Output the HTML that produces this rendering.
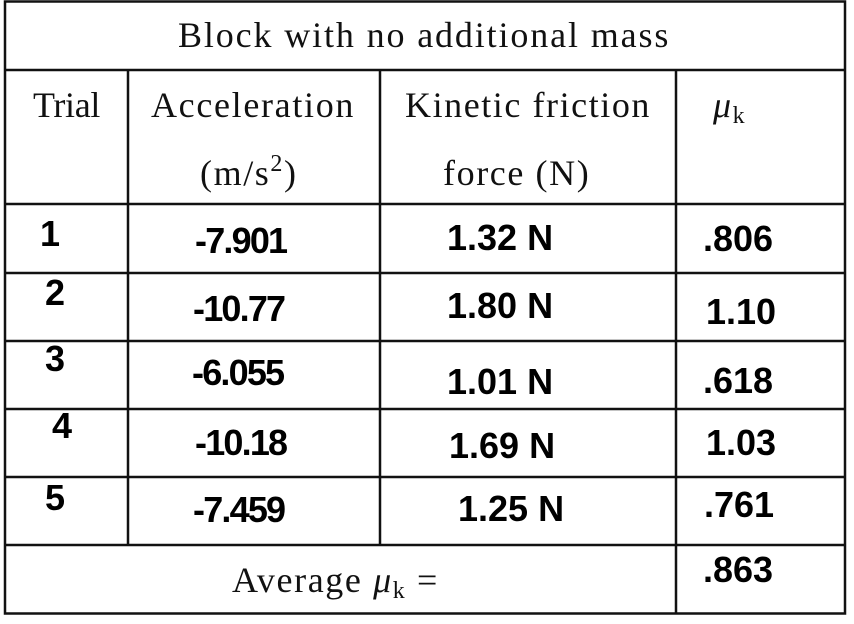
<!DOCTYPE html>
<html><head><style>body{margin:0;background:#fff}svg{display:block}</style></head><body>
<svg width="854" height="624" xmlns="http://www.w3.org/2000/svg">
<rect width="854" height="624" fill="#fff"/>
<g stroke="#111" stroke-width="2.5" fill="none">
<rect x="5" y="1.5" width="840" height="612"/>
<line x1="5" y1="70" x2="845" y2="70"/>
<line x1="5" y1="204" x2="845" y2="204"/>
<line x1="5" y1="273" x2="845" y2="273"/>
<line x1="5" y1="341" x2="845" y2="341"/>
<line x1="5" y1="409" x2="845" y2="409"/>
<line x1="5" y1="477" x2="845" y2="477"/>
<line x1="5" y1="545" x2="845" y2="545"/>
<line x1="128" y1="70" x2="128" y2="545"/>
<line x1="380" y1="70" x2="380" y2="545"/>
<line x1="676" y1="70" x2="676" y2="614"/>
</g>
<g font-family="Liberation Serif, serif" font-size="36" fill="#111" letter-spacing="1.6">
<text x="178" y="47" textLength="492">Block with no additional mass</text>
<text x="33" y="117" textLength="69">Trial</text>
<text x="151" y="117" textLength="204">Acceleration</text>
<text x="405" y="117" textLength="246">Kinetic friction</text>
<text x="713" y="117" font-style="italic">μ<tspan font-size="24" font-style="normal" dy="6">k</tspan></text>
<text x="200" y="185">(m/s<tspan font-size="24" dy="-14">2</tspan><tspan dy="14">)</tspan></text>
<text x="443" y="185">force (N)</text>
<text x="232" y="592">Average <tspan font-style="italic">μ</tspan><tspan font-size="24" dy="6">k</tspan><tspan dy="-6"> =</tspan></text>
</g>
<g font-family="Liberation Sans, sans-serif" font-size="36" font-weight="bold" fill="#000">
<text x="40" y="246">1</text>
<text x="195" y="253" letter-spacing="-1.8">-7.901</text>
<text x="447" y="250">1.32 N</text>
<text x="703" y="251">.806</text>
<text x="45" y="305">2</text>
<text x="193" y="321" letter-spacing="-1.8">-10.77</text>
<text x="447" y="318">1.80 N</text>
<text x="706" y="324">1.10</text>
<text x="45" y="371">3</text>
<text x="192" y="385" letter-spacing="-1.8">-6.055</text>
<text x="447" y="394">1.01 N</text>
<text x="703" y="393">.618</text>
<text x="52" y="438">4</text>
<text x="195" y="455" letter-spacing="-1.8">-10.18</text>
<text x="449" y="458">1.69 N</text>
<text x="706" y="455">1.03</text>
<text x="45" y="510">5</text>
<text x="193" y="522" letter-spacing="-1.8">-7.459</text>
<text x="458" y="521">1.25 N</text>
<text x="704" y="517">.761</text>
<text x="703" y="582">.863</text>
</g>
</svg>
</body></html>
